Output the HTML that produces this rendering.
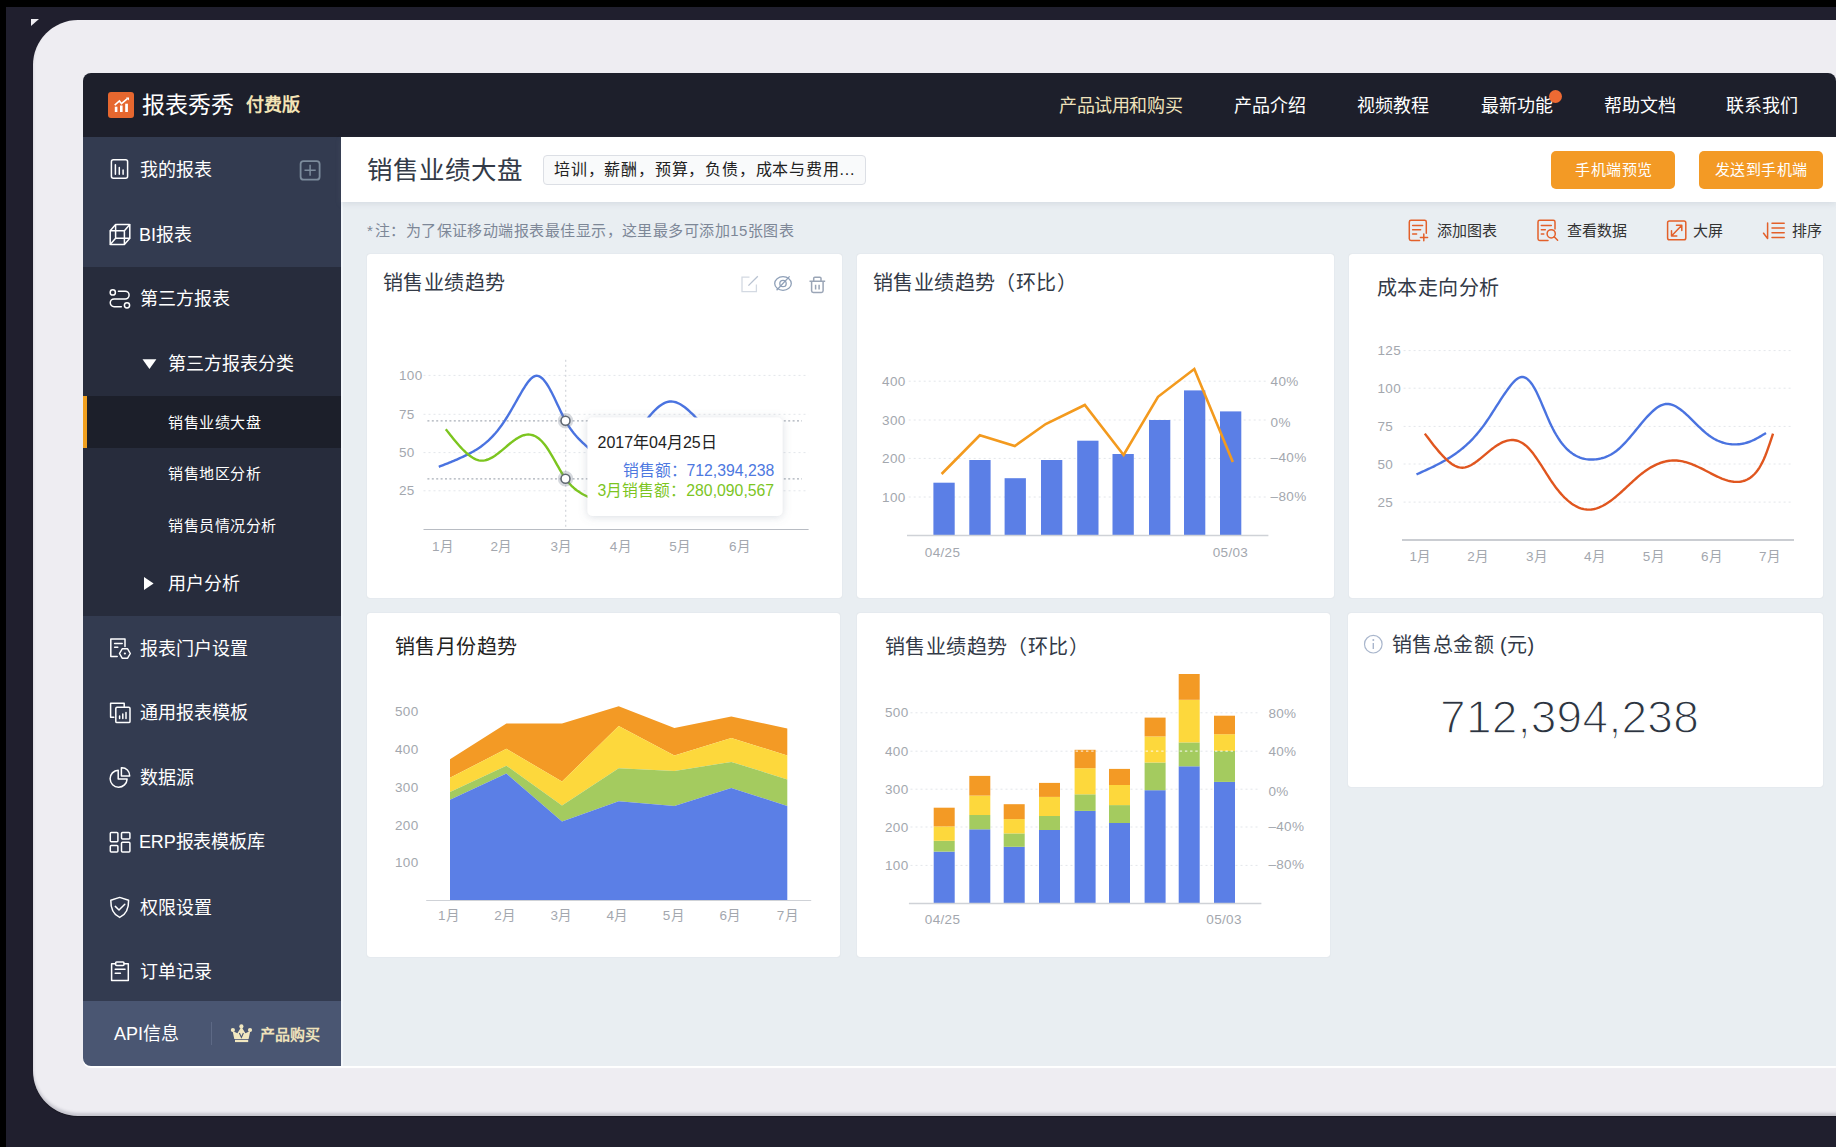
<!DOCTYPE html>
<html lang="zh-CN"><head><meta charset="utf-8">
<style>
*{margin:0;padding:0;box-sizing:border-box}
html,body{width:1836px;height:1147px;overflow:hidden}
body{position:relative;background:#201f2e;font-family:"Liberation Sans",sans-serif;color:#333}
.a{position:absolute;white-space:nowrap}
svg{position:absolute;left:0;top:0;overflow:visible}
#topblk{left:0;top:0;width:1836px;height:7px;background:#000}
#leftblk{left:0;top:0;width:6px;height:1147px;background:#000}
#frame{left:33px;top:20px;width:1900px;height:1096px;border-radius:45px;background:#eeedf2;box-shadow:inset 0 -3px 3px rgba(60,60,80,.22),0 1px 1px rgba(0,0,0,.3)}
#tri{left:31px;top:19px;width:0;height:0;border-top:7px solid #eeedf2;border-right:8px solid transparent}
#app{left:83px;top:73px;width:1753px;height:993px;border-radius:8px 8px 0 8px;overflow:hidden;background:#e9eef2;box-shadow:0 2px 1px #fff}
#hdr{left:83px;top:73px;width:1753px;height:64px;background:#1d1f2b;border-radius:8px 8px 0 0}
.sb{left:83px;width:258px}
.w{color:#fff}
.nav{font-size:18px;line-height:24px;top:94.1px;color:#fff}
.s18{font-size:18px;line-height:24px;color:#fff}
.s15{font-size:15px;line-height:22px;letter-spacing:.5px;color:#fff}
.card{background:#fff;border-radius:3px;box-shadow:0 0 1px rgba(90,100,120,.25)}
.ct{font-size:20px;letter-spacing:.4px;line-height:28px;color:#333a47}
</style></head><body>
<div class="a" id="topblk"></div>
<div class="a" id="leftblk"></div>
<div class="a" id="frame"></div>
<div class="a" id="tri"></div>
<div class="a" id="app"></div>
<div class="a" id="hdr"></div>
<!-- sidebar backgrounds -->
<div class="a sb" style="top:137px;height:130px;background:#333b50"></div>
<div class="a sb" style="top:267px;height:349px;background:#272c3c"></div>
<div class="a sb" style="top:396px;height:52px;background:#1c1f2a"></div>
<div class="a" style="left:83px;top:396px;width:4px;height:52px;background:#f0a020"></div>
<div class="a sb" style="top:616px;height:385px;background:#333b50"></div>
<div class="a sb" style="top:1001px;height:65px;background:#4a5672;border-radius:0 0 0 8px"></div>
<div class="a" style="left:211px;top:1022px;width:1px;height:23px;background:#5d6985"></div>
<div class="a" style="left:341px;top:137px;width:2px;height:929px;background:#f2f6fa"></div>

<!-- header text -->
<div class="a w" style="left:142px;top:88.6px;font-size:23px;line-height:32px">报表秀秀</div>
<div class="a" style="left:246px;top:92.7px;font-size:18px;line-height:24px;color:#f3e3b5;font-weight:bold">付费版</div>
<div class="a nav" style="left:1059px;color:#efe2bb;letter-spacing:-.4px">产品试用和购买</div>
<div class="a nav" style="left:1234px">产品介绍</div>
<div class="a nav" style="left:1357px">视频教程</div>
<div class="a nav" style="left:1481px">最新功能</div>
<div class="a nav" style="left:1604px">帮助文档</div>
<div class="a nav" style="left:1726px">联系我们</div>
<div class="a" style="left:1549px;top:89.7px;width:13px;height:13px;border-radius:50%;background:#ee6a33"></div>

<!-- sidebar text -->
<div class="a s18" style="left:140px;top:158px">我的报表</div>
<div class="a s18" style="left:139px;top:222.5px">BI报表</div>
<div class="a s18" style="left:140px;top:287px">第三方报表</div>
<div class="a s18" style="left:168px;top:352px">第三方报表分类</div>
<div class="a s15" style="left:168px;top:412px">销售业绩大盘</div>
<div class="a s15" style="left:168px;top:463px">销售地区分析</div>
<div class="a s15" style="left:168px;top:515px">销售员情况分析</div>
<div class="a s18" style="left:168px;top:571.6px">用户分析</div>
<div class="a s18" style="left:140px;top:636.5px">报表门户设置</div>
<div class="a s18" style="left:140px;top:701px">通用报表模板</div>
<div class="a s18" style="left:140px;top:765.5px">数据源</div>
<div class="a s18" style="left:139px;top:830px;letter-spacing:-.15px">ERP报表模板库</div>
<div class="a s18" style="left:140px;top:896px">权限设置</div>
<div class="a s18" style="left:140px;top:960px">订单记录</div>
<div class="a s18" style="left:114px;top:1022.4px">API信息</div>
<div class="a" style="left:260px;top:1023px;font-size:15px;line-height:24px;color:#efe2bb;font-weight:bold">产品购买</div>

<!-- title bar -->
<div class="a" style="left:341px;top:137px;width:1495px;height:65px;background:#fff;box-shadow:0 2px 6px rgba(120,130,150,.16)"></div>
<div class="a" style="left:367px;top:153px;font-size:25.5px;line-height:34px;color:#333a47">销售业绩大盘</div>
<div class="a" style="left:543px;top:155px;width:323px;height:30px;border:1px solid #dcdfe5;border-radius:4px;background:#f9fafb"></div>
<div class="a" style="left:554px;top:158px;font-size:16px;line-height:24px;letter-spacing:.8px;color:#222">培训，薪酬，预算，负债，成本与费用...</div>
<div class="a btn" style="left:1551px;top:150.5px;width:124px;height:38px;border-radius:5px;background:#f39a25"></div>
<div class="a btn" style="left:1699px;top:150.5px;width:124px;height:38px;border-radius:5px;background:#f39a25"></div>
<div class="a" style="left:1575px;top:158.5px;font-size:15px;letter-spacing:.5px;line-height:22px;color:#fff">手机端预览</div>
<div class="a" style="left:1715px;top:158.5px;font-size:15px;letter-spacing:.4px;line-height:22px;color:#fff">发送到手机端</div>
<!-- toolbar -->
<div class="a" style="left:367px;top:219.5px;font-size:15px;letter-spacing:.45px;line-height:22px;color:#7d8797"><span style="margin-right:1.5px">*</span>注：为了保证移动端报表最佳显示，这里最多可添加15张图表</div>
<div class="a" style="left:1437px;top:219.5px;font-size:15px;line-height:22px;color:#333">添加图表</div>
<div class="a" style="left:1567px;top:219.5px;font-size:15px;line-height:22px;color:#333">查看数据</div>
<div class="a" style="left:1693px;top:219.5px;font-size:15px;line-height:22px;color:#333">大屏</div>
<div class="a" style="left:1792px;top:219.5px;font-size:15px;line-height:22px;color:#333">排序</div>
<!-- cards -->
<div class="a card" style="left:367px;top:254px;width:474.5px;height:344px"></div>
<div class="a card" style="left:857px;top:254px;width:477px;height:344px"></div>
<div class="a card" style="left:1349.3px;top:254px;width:473.7px;height:344px"></div>
<div class="a card" style="left:367px;top:613px;width:473px;height:344px"></div>
<div class="a card" style="left:857px;top:613px;width:473.3px;height:344px"></div>
<div class="a card" style="left:1347.5px;top:613px;width:475.2px;height:173.5px"></div>
<!-- card titles -->
<div class="a ct" style="left:383px;top:268.5px">销售业绩趋势</div>
<div class="a ct" style="left:873px;top:268.5px">销售业绩趋势（环比）</div>
<div class="a ct" style="left:1377px;top:273.5px">成本走向分析</div>
<div class="a ct" style="left:395px;top:632.5px;color:#222">销售月份趋势</div>
<div class="a ct" style="left:885px;top:632.5px">销售业绩趋势（环比）</div>
<div class="a ct" style="left:1392px;top:631px">销售总金额 (元)</div>
<div class="a" style="left:1440px;top:690px;font-size:46px;line-height:54px;letter-spacing:.3px;color:#2c3440;-webkit-text-stroke:1.3px #fff">712,394,238</div>
<!--CHARTTEXT-->

<svg width="1836" height="1147" viewBox="0 0 1836 1147">
  <!-- logo -->
  <rect x="108" y="92" width="26" height="26" rx="3" fill="#e6672f"/>
  <g fill="#fff">
    <rect x="114.8" y="106.7" width="2.6" height="5.3"/>
    <rect x="120" y="105.5" width="2.6" height="6.5"/>
    <rect x="125.2" y="103.7" width="2.7" height="8.3"/>
    <path d="M126 97.6 L129 97.6 L129 100.6 Z"/>
  </g>
  <polyline points="114.7,105.2 119.4,101 121.5,103.7 127.4,98.6" fill="none" stroke="#fff" stroke-width="1.6"/>
  <g fill="none" stroke="#fff" stroke-width="1.5" stroke-linecap="round" stroke-linejoin="round">
    <!-- my reports -->
    <rect x="111.4" y="159.8" width="16.2" height="18.4" rx="2"/>
    <path d="M115.4 164.8V174.3M119.3 167.4V174.3M123.1 170V174.3"/>
    <!-- BI cube -->
    <rect x="110.2" y="230.8" width="14.2" height="13.6" rx="0.8"/>
    <rect x="115.6" y="224.5" width="14.2" height="13.8" rx="0.8"/>
    <path d="M110.2 230.8L115.6 224.5M124.4 230.8L129.8 224.5M124.4 244.4L129.8 238.3M110.2 244.4L115.6 238.3"/>
    <!-- third party -->
    <circle cx="112.8" cy="292.4" r="2.6"/>
    <circle cx="127" cy="305.3" r="2.6"/>
    <path d="M118.4 291.2H125.2A3.9 3.9 0 0 1 125.2 299H114.1A3.85 3.85 0 0 0 114.1 306.7H121.3"/>
    <!-- portal settings -->
    <path d="M117.2 656.4H110.8V639H125V646.6"/>
    <path d="M114.6 643.4H122.2M114.6 647.3H117.8"/>
    <path d="M122.2 648.8H127.6L130.3 653.5L127.6 658.2H122.2L119.5 653.5Z"/>
    <circle cx="124.9" cy="653.5" r="1.1" fill="#fff" stroke="none"/>
    <!-- templates -->
    <path d="M113.8 717.2H110.6V703.2H124.2V706.6"/>
    <rect x="115.8" y="707.2" width="14.2" height="15.4" rx="1.2"/>
    <path d="M119.6 716V718.6M122.8 713.9V718.6M126 712.5V718.6"/>
    <!-- data source pie -->
    <path d="M118.2 770.2A8.5 8.5 0 1 0 127.1 779.1H118.2Z"/>
    <path d="M121.4 767.7A7.8 7.8 0 0 1 129.7 775.9H121.4Z"/>
    <!-- ERP -->
    <rect x="110.3" y="832.6" width="7.6" height="9.2" rx="1"/>
    <rect x="121.5" y="832.6" width="8.4" height="6.4" rx="1"/>
    <rect x="110.3" y="845.4" width="7.6" height="6.6" rx="1"/>
    <rect x="121.5" y="842.3" width="8.4" height="9.7" rx="1"/>
    <!-- shield -->
    <path d="M119.7 897.4L110.8 900.2C110.6 909 113.5 914.6 119.7 917.4C125.9 914.6 128.8 909 128.6 900.2Z"/>
    <path d="M115.3 906.4L119 910L124.8 904.3"/>
    <!-- clipboard -->
    <path d="M115.6 963.8H111.6V980.5H128.3V963.8H124.2"/>
    <rect x="115.6" y="962" width="8.4" height="3.4" rx="1"/>
    <path d="M115.2 969.3H125M115.2 973.3H120.4"/>
  </g>
  <!-- plus box -->
  <rect x="300.6" y="161.1" width="19" height="18.6" rx="3" fill="none" stroke="#7c8b9b" stroke-width="1.8"/>
  <path d="M310.1 164.8V175.8M304.5 170.3H315.7" stroke="#7c8b9b" stroke-width="1.5"/>
  <!-- triangles -->
  <path d="M142.5 359.3H156.4L149.45 369Z" fill="#fff"/>
  <path d="M144 577V590L153.6 583.5Z" fill="#fff"/>
  <!-- crown -->
  <g fill="#f1e7c0">
    <circle cx="232.9" cy="1030" r="2.1"/>
    <circle cx="241.4" cy="1026.4" r="2.1"/>
    <circle cx="250" cy="1030" r="2.1"/>
    <path d="M232.6 1031L234.3 1039H248.6L250.3 1031L245.4 1033.2L241.4 1026.8L237.4 1033.2Z"/>
    <rect x="235" y="1039.8" width="13.2" height="2.3"/>
  </g>
  <path d="M239.4 1033L241.4 1037.5L243.4 1033" fill="none" stroke="#4a5672" stroke-width="1.1"/>
  <g font-family="Liberation Sans, sans-serif">
<text x="399" y="375.4" font-size="13.5" fill="#a3a7ae" text-anchor="start" dominant-baseline="central" letter-spacing="0.35">100</text>
<line x1="423.5" y1="375.4" x2="808.6" y2="375.4" stroke="#e3e6ea" stroke-width="1" stroke-dasharray="2 3"/>
<text x="399" y="414.3" font-size="13.5" fill="#a3a7ae" text-anchor="start" dominant-baseline="central" letter-spacing="0.35">75</text>
<line x1="423.5" y1="414.3" x2="808.6" y2="414.3" stroke="#e3e6ea" stroke-width="1" stroke-dasharray="2 3"/>
<text x="399" y="452.6" font-size="13.5" fill="#a3a7ae" text-anchor="start" dominant-baseline="central" letter-spacing="0.35">50</text>
<line x1="423.5" y1="452.6" x2="808.6" y2="452.6" stroke="#e3e6ea" stroke-width="1" stroke-dasharray="2 3"/>
<text x="399" y="490.8" font-size="13.5" fill="#a3a7ae" text-anchor="start" dominant-baseline="central" letter-spacing="0.35">25</text>
<line x1="423.5" y1="490.8" x2="808.6" y2="490.8" stroke="#e3e6ea" stroke-width="1" stroke-dasharray="2 3"/>
<line x1="423.5" y1="529.5" x2="808.6" y2="529.5" stroke="#b8bcc3" stroke-width="1"/>
<text x="442.7" y="546.6" font-size="13.5" fill="#a3a7ae" text-anchor="middle" dominant-baseline="central" letter-spacing="0.35">1月</text>
<text x="501" y="546.6" font-size="13.5" fill="#a3a7ae" text-anchor="middle" dominant-baseline="central" letter-spacing="0.35">2月</text>
<text x="561" y="546.6" font-size="13.5" fill="#a3a7ae" text-anchor="middle" dominant-baseline="central" letter-spacing="0.35">3月</text>
<text x="620.3" y="546.6" font-size="13.5" fill="#a3a7ae" text-anchor="middle" dominant-baseline="central" letter-spacing="0.35">4月</text>
<text x="679.8" y="546.6" font-size="13.5" fill="#a3a7ae" text-anchor="middle" dominant-baseline="central" letter-spacing="0.35">5月</text>
<text x="739.6" y="546.6" font-size="13.5" fill="#a3a7ae" text-anchor="middle" dominant-baseline="central" letter-spacing="0.35">6月</text>
<line x1="565.75" y1="359.8" x2="565.75" y2="529" stroke="#c9cdd3" stroke-width="1" stroke-dasharray="2 3"/>
<line x1="427.4" y1="420.8" x2="802" y2="420.8" stroke="#a9afb8" stroke-width="1.2" stroke-dasharray="2 2.4"/>
<line x1="427.4" y1="478.8" x2="802" y2="478.8" stroke="#a9afb8" stroke-width="1.2" stroke-dasharray="2 2.4"/>
<path d="M438.80,466.80 L440.30,466.22 L441.80,465.63 L443.30,465.05 L444.80,464.46 L446.30,463.87 L447.80,463.27 L449.30,462.67 L450.80,462.06 L452.30,461.45 L453.80,460.82 L455.30,460.19 L456.80,459.54 L458.30,458.88 L459.80,458.22 L461.30,457.53 L462.80,456.84 L464.30,456.12 L465.80,455.40 L467.30,454.65 L468.80,453.89 L470.30,453.10 L471.80,452.29 L473.30,451.45 L474.80,450.57 L476.30,449.66 L477.80,448.71 L479.30,447.71 L480.80,446.66 L482.30,445.56 L483.80,444.40 L485.30,443.18 L486.80,441.90 L488.30,440.55 L489.80,439.13 L491.30,437.64 L492.80,436.07 L494.30,434.43 L495.80,432.71 L497.30,430.91 L498.80,429.02 L500.30,427.05 L501.80,425.00 L503.30,422.85 L504.80,420.61 L506.30,418.27 L507.80,415.85 L509.30,413.37 L510.80,410.82 L512.30,408.23 L513.80,405.61 L515.30,402.97 L516.80,400.33 L518.30,397.69 L519.80,395.08 L521.30,392.50 L522.80,389.97 L524.30,387.53 L525.80,385.22 L527.30,383.07 L528.80,381.12 L530.30,379.42 L531.80,377.99 L533.30,376.89 L534.80,376.15 L536.30,375.80 L537.80,375.88 L539.30,376.37 L540.80,377.24 L542.30,378.47 L543.80,380.03 L545.30,381.89 L546.80,384.03 L548.30,386.41 L549.80,389.02 L551.30,391.81 L552.80,394.76 L554.30,397.82 L555.80,400.97 L557.30,404.15 L558.80,407.35 L560.30,410.52 L561.80,413.63 L563.30,416.63 L564.80,419.50 L566.30,422.20 L567.80,424.71 L569.30,427.06 L570.80,429.26 L572.30,431.31 L573.80,433.24 L575.30,435.05 L576.80,436.76 L578.30,438.38 L579.80,439.92 L581.30,441.40 L582.80,442.83 L584.30,444.22 L585.80,445.59 L587.30,446.94 L588.80,448.28 L590.30,449.60 L591.80,450.89 L593.30,452.13 L594.80,453.32 L596.30,454.44 L597.80,455.47 L599.30,456.42 L600.80,457.25 L602.30,457.97 L603.80,458.57 L605.30,459.02 L606.80,459.32 L608.30,459.45 L609.80,459.41 L611.30,459.18 L612.80,458.74 L614.30,458.11 L615.80,457.30 L617.30,456.30 L618.80,455.15 L620.30,453.85 L621.80,452.41 L623.30,450.85 L624.80,449.18 L626.30,447.41 L627.80,445.55 L629.30,443.62 L630.80,441.63 L632.30,439.59 L633.80,437.51 L635.30,435.41 L636.80,433.30 L638.30,431.18 L639.80,429.06 L641.30,426.96 L642.80,424.88 L644.30,422.83 L645.80,420.83 L647.30,418.88 L648.80,417.00 L650.30,415.19 L651.80,413.46 L653.30,411.82 L654.80,410.27 L656.30,408.83 L657.80,407.49 L659.30,406.27 L660.80,405.17 L662.30,404.20 L663.80,403.36 L665.30,402.67 L666.80,402.13 L668.30,401.74 L669.80,401.52 L671.30,401.46 L672.80,401.57 L674.30,401.83 L675.80,402.24 L677.30,402.79 L678.80,403.46 L680.30,404.26 L681.80,405.17 L683.30,406.18 L684.80,407.29 L686.30,408.49 L687.80,409.76 L689.30,411.10 L690.80,412.51 L692.30,413.96 L693.80,415.46 L695.30,417.00 L696.80,418.56 L698.30,420.16 L699.80,421.77 L701.30,423.41 L702.80,425.06 L704.30,426.74 L705.80,428.43 L707.30,430.14 L708.80,431.86 L710.30,433.60 L711.80,435.34 L713.30,437.10 L714.80,438.86 L716.30,440.63 L717.80,442.40 L719.30,444.17 L720.00,445.00" fill="none" stroke="#4a73e0" stroke-width="2.4"/>
<path d="M445.80,429.20 L447.30,431.12 L448.80,433.03 L450.30,434.93 L451.80,436.82 L453.30,438.67 L454.80,440.50 L456.30,442.29 L457.80,444.04 L459.30,445.74 L460.80,447.38 L462.30,448.96 L463.80,450.48 L465.30,451.92 L466.80,453.28 L468.30,454.55 L469.80,455.74 L471.30,456.81 L472.80,457.78 L474.30,458.62 L475.80,459.33 L477.30,459.90 L478.80,460.32 L480.30,460.58 L481.80,460.67 L483.30,460.60 L484.80,460.37 L486.30,460.01 L487.80,459.51 L489.30,458.90 L490.80,458.17 L492.30,457.34 L493.80,456.42 L495.30,455.42 L496.80,454.35 L498.30,453.22 L499.80,452.05 L501.30,450.83 L502.80,449.58 L504.30,448.32 L505.80,447.05 L507.30,445.78 L508.80,444.53 L510.30,443.30 L511.80,442.11 L513.30,440.97 L514.80,439.88 L516.30,438.87 L517.80,437.93 L519.30,437.09 L520.80,436.35 L522.30,435.72 L523.80,435.21 L525.30,434.84 L526.80,434.62 L528.30,434.54 L529.80,434.61 L531.30,434.84 L532.80,435.24 L534.30,435.79 L535.80,436.53 L537.30,437.43 L538.80,438.52 L540.30,439.79 L541.80,441.25 L543.30,442.91 L544.80,444.77 L546.30,446.81 L547.80,449.03 L549.30,451.38 L550.80,453.84 L552.30,456.40 L553.80,459.01 L555.30,461.66 L556.80,464.31 L558.30,466.95 L559.80,469.55 L561.30,472.07 L562.80,474.50 L564.30,476.80 L565.80,478.96 L567.30,480.95 L568.80,482.79 L570.30,484.48 L571.80,486.03 L573.30,487.46 L574.80,488.78 L576.30,489.98 L577.80,491.09 L579.30,492.11 L580.80,493.05 L582.30,493.93 L583.80,494.75 L585.30,495.52 L586.80,496.25 L588.30,496.95 L589.80,497.62 L591.30,498.27 L592.80,498.90 L594.30,499.50 L595.80,500.09 L597.30,500.65 L598.80,501.20 L600.30,501.74 L601.80,502.26 L603.30,502.78 L604.80,503.28 L606.30,503.78 L607.80,504.28 L609.30,504.77 L610.00,505.00" fill="none" stroke="#7cc51f" stroke-width="2.4"/>
<circle cx="565.5" cy="420.8" r="6.4" fill="none" stroke="rgba(120,130,145,.3)" stroke-width="2.6"/>
<circle cx="565.5" cy="420.8" r="4.5" fill="#fff" stroke="#5f6872" stroke-width="1.6"/>
<circle cx="565.5" cy="478.8" r="6.4" fill="none" stroke="rgba(120,130,145,.3)" stroke-width="2.6"/>
<circle cx="565.5" cy="478.8" r="4.5" fill="#fff" stroke="#5f6872" stroke-width="1.6"/>
<defs><filter id="sh" x="-20%" y="-20%" width="140%" height="140%"><feDropShadow dx="0" dy="1" stdDeviation="4" flood-color="#6a7a90" flood-opacity=".26"/></filter></defs>
<rect x="587.5" y="417.5" width="195" height="98.5" rx="5" fill="#fff" filter="url(#sh)"/>
<g fill="none" stroke-width="1.3">
<path d="M749.5 277.2H742V291.6H756.4V284.5" stroke="#d3d9e2"/><path d="M748.4 285.6L757.8 276.2" stroke="#b8c2d1"/>
<ellipse cx="783" cy="283.5" rx="8.3" ry="6.8" stroke="#8fa0b8"/><circle cx="783" cy="283.5" r="3.2" stroke="#8fa0b8"/><path d="M776.6 290.2L789.6 276.4" stroke="#8fa0b8"/>
<path d="M809.5 281.3H825.2M811.6 281.3V290.8C811.6 291.8 812.3 292.4 813.3 292.4H821.4C822.4 292.4 823.1 291.8 823.1 290.8V281.3M813.7 281.3V278.3C813.7 277.6 814.2 277.2 814.9 277.2H819.8C820.5 277.2 821 277.6 821 278.3V281.3M815.6 284.8V289.4M819.1 284.8V289.4" stroke="#9aa5b6" stroke-width="1.5"/>
</g>
<text x="905.7" y="381.2" font-size="13.5" fill="#a3a7ae" text-anchor="end" dominant-baseline="central" letter-spacing="0.35">400</text>
<text x="1270.6" y="381" font-size="13.5" fill="#a3a7ae" text-anchor="start" dominant-baseline="central" letter-spacing="0.35">40%</text>
<line x1="908.7" y1="381.2" x2="1266.8" y2="381.2" stroke="#e3e6ea" stroke-width="1" stroke-dasharray="2 3"/>
<text x="905.7" y="420" font-size="13.5" fill="#a3a7ae" text-anchor="end" dominant-baseline="central" letter-spacing="0.35">300</text>
<text x="1270.6" y="422" font-size="13.5" fill="#a3a7ae" text-anchor="start" dominant-baseline="central" letter-spacing="0.35">0%</text>
<line x1="908.7" y1="420" x2="1266.8" y2="420" stroke="#e3e6ea" stroke-width="1" stroke-dasharray="2 3"/>
<text x="905.7" y="458.4" font-size="13.5" fill="#a3a7ae" text-anchor="end" dominant-baseline="central" letter-spacing="0.35">200</text>
<text x="1270.6" y="457.2" font-size="13.5" fill="#a3a7ae" text-anchor="start" dominant-baseline="central" letter-spacing="0.35">–40%</text>
<line x1="908.7" y1="458.4" x2="1266.8" y2="458.4" stroke="#e3e6ea" stroke-width="1" stroke-dasharray="2 3"/>
<text x="905.7" y="497" font-size="13.5" fill="#a3a7ae" text-anchor="end" dominant-baseline="central" letter-spacing="0.35">100</text>
<text x="1270.6" y="496.3" font-size="13.5" fill="#a3a7ae" text-anchor="start" dominant-baseline="central" letter-spacing="0.35">–80%</text>
<line x1="908.7" y1="497" x2="1266.8" y2="497" stroke="#e3e6ea" stroke-width="1" stroke-dasharray="2 3"/>
<rect x="933.4" y="482.7" width="21.3" height="52.8" fill="#5b7fe6"/>
<rect x="969.3" y="460" width="21.3" height="75.5" fill="#5b7fe6"/>
<rect x="1004.6" y="478.2" width="21.3" height="57.3" fill="#5b7fe6"/>
<rect x="1041" y="460" width="21.3" height="75.5" fill="#5b7fe6"/>
<rect x="1077.2" y="440.7" width="21.3" height="94.8" fill="#5b7fe6"/>
<rect x="1112.5" y="454" width="21.3" height="81.5" fill="#5b7fe6"/>
<rect x="1149" y="420" width="21.3" height="115.5" fill="#5b7fe6"/>
<rect x="1184" y="390.4" width="21.3" height="145.1" fill="#5b7fe6"/>
<rect x="1220" y="411.4" width="21.3" height="124.1" fill="#5b7fe6"/>
<line x1="907" y1="535.5" x2="1268.4" y2="535.5" stroke="#cfd2d7" stroke-width="1.5"/>
<polyline points="941.6,474 979.8,435.3 1014.8,446 1045.7,424 1084.8,405 1123.6,455 1158,396.8 1194.3,369 1232.8,462" fill="none" stroke="#f39a1e" stroke-width="2.6" stroke-linejoin="miter"/>
<text x="924.8" y="552" font-size="13.5" fill="#a3a7ae" text-anchor="start" dominant-baseline="central" letter-spacing="0.35">04/25</text>
<text x="1212.7" y="552" font-size="13.5" fill="#a3a7ae" text-anchor="start" dominant-baseline="central" letter-spacing="0.35">05/03</text>
<text x="1377.5" y="350.6" font-size="13.5" fill="#a3a7ae" text-anchor="start" dominant-baseline="central" letter-spacing="0.35">125</text>
<line x1="1403.6" y1="350.6" x2="1791.8" y2="350.6" stroke="#e3e6ea" stroke-width="1" stroke-dasharray="2 3"/>
<text x="1377.5" y="388.2" font-size="13.5" fill="#a3a7ae" text-anchor="start" dominant-baseline="central" letter-spacing="0.35">100</text>
<line x1="1403.6" y1="388.2" x2="1791.8" y2="388.2" stroke="#e3e6ea" stroke-width="1" stroke-dasharray="2 3"/>
<text x="1377.5" y="426.4" font-size="13.5" fill="#a3a7ae" text-anchor="start" dominant-baseline="central" letter-spacing="0.35">75</text>
<line x1="1403.6" y1="426.4" x2="1791.8" y2="426.4" stroke="#e3e6ea" stroke-width="1" stroke-dasharray="2 3"/>
<text x="1377.5" y="464" font-size="13.5" fill="#a3a7ae" text-anchor="start" dominant-baseline="central" letter-spacing="0.35">50</text>
<line x1="1403.6" y1="464" x2="1791.8" y2="464" stroke="#e3e6ea" stroke-width="1" stroke-dasharray="2 3"/>
<text x="1377.5" y="502.1" font-size="13.5" fill="#a3a7ae" text-anchor="start" dominant-baseline="central" letter-spacing="0.35">25</text>
<line x1="1403.6" y1="502.1" x2="1791.8" y2="502.1" stroke="#e3e6ea" stroke-width="1" stroke-dasharray="2 3"/>
<line x1="1402" y1="540" x2="1794" y2="540" stroke="#b8bcc3" stroke-width="1.5"/>
<text x="1420.2" y="556.2" font-size="13.5" fill="#a3a7ae" text-anchor="middle" dominant-baseline="central" letter-spacing="0.35">1月</text>
<text x="1477.8" y="556.2" font-size="13.5" fill="#a3a7ae" text-anchor="middle" dominant-baseline="central" letter-spacing="0.35">2月</text>
<text x="1536.6" y="556.2" font-size="13.5" fill="#a3a7ae" text-anchor="middle" dominant-baseline="central" letter-spacing="0.35">3月</text>
<text x="1594.5" y="556.2" font-size="13.5" fill="#a3a7ae" text-anchor="middle" dominant-baseline="central" letter-spacing="0.35">4月</text>
<text x="1653.4" y="556.2" font-size="13.5" fill="#a3a7ae" text-anchor="middle" dominant-baseline="central" letter-spacing="0.35">5月</text>
<text x="1711.6" y="556.2" font-size="13.5" fill="#a3a7ae" text-anchor="middle" dominant-baseline="central" letter-spacing="0.35">6月</text>
<text x="1769.5" y="556.2" font-size="13.5" fill="#a3a7ae" text-anchor="middle" dominant-baseline="central" letter-spacing="0.35">7月</text>
<path d="M1416.50,474.40 L1418.00,473.73 L1419.50,473.06 L1421.00,472.39 L1422.50,471.71 L1424.00,471.03 L1425.50,470.35 L1427.00,469.66 L1428.50,468.96 L1430.00,468.25 L1431.50,467.53 L1433.00,466.80 L1434.50,466.06 L1436.00,465.30 L1437.50,464.53 L1439.00,463.74 L1440.50,462.94 L1442.00,462.12 L1443.50,461.28 L1445.00,460.42 L1446.50,459.54 L1448.00,458.64 L1449.50,457.71 L1451.00,456.75 L1452.50,455.77 L1454.00,454.76 L1455.50,453.72 L1457.00,452.64 L1458.50,451.53 L1460.00,450.37 L1461.50,449.18 L1463.00,447.95 L1464.50,446.67 L1466.00,445.34 L1467.50,443.97 L1469.00,442.55 L1470.50,441.07 L1472.00,439.54 L1473.50,437.95 L1475.00,436.31 L1476.50,434.60 L1478.00,432.83 L1479.50,431.00 L1481.00,429.10 L1482.50,427.13 L1484.00,425.09 L1485.50,422.98 L1487.00,420.80 L1488.50,418.58 L1490.00,416.31 L1491.50,414.01 L1493.00,411.68 L1494.50,409.34 L1496.00,406.98 L1497.50,404.63 L1499.00,402.29 L1500.50,399.97 L1502.00,397.68 L1503.50,395.43 L1505.00,393.22 L1506.50,391.07 L1508.00,388.98 L1509.50,386.97 L1511.00,385.05 L1512.50,383.26 L1514.00,381.63 L1515.50,380.19 L1517.00,378.98 L1518.50,378.02 L1520.00,377.35 L1521.50,377.01 L1523.00,377.02 L1524.50,377.38 L1526.00,378.08 L1527.50,379.13 L1529.00,380.50 L1530.50,382.19 L1532.00,384.21 L1533.50,386.53 L1535.00,389.15 L1536.50,392.04 L1538.00,395.16 L1539.50,398.45 L1541.00,401.89 L1542.50,405.41 L1544.00,408.99 L1545.50,412.57 L1547.00,416.11 L1548.50,419.57 L1550.00,422.91 L1551.50,426.08 L1553.00,429.06 L1554.50,431.87 L1556.00,434.51 L1557.50,436.97 L1559.00,439.28 L1560.50,441.43 L1562.00,443.42 L1563.50,445.27 L1565.00,446.99 L1566.50,448.56 L1568.00,450.01 L1569.50,451.33 L1571.00,452.54 L1572.50,453.63 L1574.00,454.62 L1575.50,455.50 L1577.00,456.28 L1578.50,456.97 L1580.00,457.57 L1581.50,458.08 L1583.00,458.51 L1584.50,458.86 L1586.00,459.13 L1587.50,459.33 L1589.00,459.46 L1590.50,459.53 L1592.00,459.53 L1593.50,459.48 L1595.00,459.37 L1596.50,459.22 L1598.00,459.00 L1599.50,458.73 L1601.00,458.41 L1602.50,458.01 L1604.00,457.56 L1605.50,457.03 L1607.00,456.43 L1608.50,455.76 L1610.00,455.01 L1611.50,454.19 L1613.00,453.28 L1614.50,452.28 L1616.00,451.20 L1617.50,450.03 L1619.00,448.76 L1620.50,447.41 L1622.00,445.97 L1623.50,444.46 L1625.00,442.89 L1626.50,441.25 L1628.00,439.57 L1629.50,437.84 L1631.00,436.07 L1632.50,434.27 L1634.00,432.46 L1635.50,430.63 L1637.00,428.79 L1638.50,426.96 L1640.00,425.13 L1641.50,423.32 L1643.00,421.53 L1644.50,419.78 L1646.00,418.07 L1647.50,416.41 L1649.00,414.82 L1650.50,413.29 L1652.00,411.85 L1653.50,410.49 L1655.00,409.24 L1656.50,408.09 L1658.00,407.07 L1659.50,406.17 L1661.00,405.41 L1662.50,404.80 L1664.00,404.35 L1665.50,404.06 L1667.00,403.94 L1668.50,404.00 L1670.00,404.23 L1671.50,404.60 L1673.00,405.12 L1674.50,405.77 L1676.00,406.55 L1677.50,407.44 L1679.00,408.43 L1680.50,409.51 L1682.00,410.68 L1683.50,411.92 L1685.00,413.22 L1686.50,414.58 L1688.00,415.98 L1689.50,417.41 L1691.00,418.87 L1692.50,420.35 L1694.00,421.84 L1695.50,423.33 L1697.00,424.81 L1698.50,426.28 L1700.00,427.72 L1701.50,429.14 L1703.00,430.51 L1704.50,431.84 L1706.00,433.12 L1707.50,434.33 L1709.00,435.47 L1710.50,436.54 L1712.00,437.53 L1713.50,438.45 L1715.00,439.30 L1716.50,440.07 L1718.00,440.78 L1719.50,441.42 L1721.00,441.99 L1722.50,442.50 L1724.00,442.95 L1725.50,443.33 L1727.00,443.65 L1728.50,443.92 L1730.00,444.12 L1731.50,444.27 L1733.00,444.36 L1734.50,444.40 L1736.00,444.39 L1737.50,444.32 L1739.00,444.20 L1740.50,444.02 L1742.00,443.79 L1743.50,443.49 L1745.00,443.15 L1746.50,442.74 L1748.00,442.27 L1749.50,441.75 L1751.00,441.16 L1752.50,440.51 L1754.00,439.81 L1755.50,439.06 L1757.00,438.27 L1758.50,437.45 L1760.00,436.59 L1761.50,435.72 L1763.00,434.82 L1764.50,433.91 L1766.00,433.00" fill="none" stroke="#4a73e0" stroke-width="2.4"/>
<path d="M1424.80,433.60 L1426.30,435.60 L1427.80,437.59 L1429.30,439.58 L1430.80,441.54 L1432.30,443.48 L1433.80,445.39 L1435.30,447.27 L1436.80,449.11 L1438.30,450.89 L1439.80,452.63 L1441.30,454.31 L1442.80,455.92 L1444.30,457.46 L1445.80,458.93 L1447.30,460.31 L1448.80,461.61 L1450.30,462.80 L1451.80,463.89 L1453.30,464.87 L1454.80,465.71 L1456.30,466.43 L1457.80,466.99 L1459.30,467.40 L1460.80,467.65 L1462.30,467.72 L1463.80,467.62 L1465.30,467.37 L1466.80,466.96 L1468.30,466.42 L1469.80,465.75 L1471.30,464.98 L1472.80,464.10 L1474.30,463.13 L1475.80,462.08 L1477.30,460.97 L1478.80,459.80 L1480.30,458.59 L1481.80,457.35 L1483.30,456.10 L1484.80,454.83 L1486.30,453.57 L1487.80,452.32 L1489.30,451.10 L1490.80,449.90 L1492.30,448.75 L1493.80,447.63 L1495.30,446.57 L1496.80,445.56 L1498.30,444.62 L1499.80,443.74 L1501.30,442.94 L1502.80,442.22 L1504.30,441.60 L1505.80,441.06 L1507.30,440.63 L1508.80,440.31 L1510.30,440.10 L1511.80,440.02 L1513.30,440.06 L1514.80,440.22 L1516.30,440.51 L1517.80,440.94 L1519.30,441.50 L1520.80,442.20 L1522.30,443.04 L1523.80,444.03 L1525.30,445.17 L1526.80,446.46 L1528.30,447.90 L1529.80,449.50 L1531.30,451.24 L1532.80,453.11 L1534.30,455.09 L1535.80,457.18 L1537.30,459.34 L1538.80,461.58 L1540.30,463.88 L1541.80,466.22 L1543.30,468.58 L1544.80,470.96 L1546.30,473.33 L1547.80,475.69 L1549.30,478.02 L1550.80,480.30 L1552.30,482.52 L1553.80,484.66 L1555.30,486.73 L1556.80,488.70 L1558.30,490.59 L1559.80,492.40 L1561.30,494.11 L1562.80,495.74 L1564.30,497.28 L1565.80,498.74 L1567.30,500.10 L1568.80,501.37 L1570.30,502.56 L1571.80,503.65 L1573.30,504.66 L1574.80,505.57 L1576.30,506.39 L1577.80,507.12 L1579.30,507.76 L1580.80,508.30 L1582.30,508.75 L1583.80,509.11 L1585.30,509.38 L1586.80,509.55 L1588.30,509.62 L1589.80,509.60 L1591.30,509.48 L1592.80,509.28 L1594.30,508.98 L1595.80,508.59 L1597.30,508.13 L1598.80,507.58 L1600.30,506.96 L1601.80,506.26 L1603.30,505.49 L1604.80,504.66 L1606.30,503.76 L1607.80,502.80 L1609.30,501.78 L1610.80,500.71 L1612.30,499.59 L1613.80,498.42 L1615.30,497.21 L1616.80,495.95 L1618.30,494.66 L1619.80,493.34 L1621.30,492.00 L1622.80,490.63 L1624.30,489.25 L1625.80,487.86 L1627.30,486.46 L1628.80,485.06 L1630.30,483.67 L1631.80,482.28 L1633.30,480.91 L1634.80,479.56 L1636.30,478.23 L1637.80,476.92 L1639.30,475.66 L1640.80,474.43 L1642.30,473.24 L1643.80,472.10 L1645.30,471.01 L1646.80,469.97 L1648.30,468.98 L1649.80,468.05 L1651.30,467.16 L1652.80,466.33 L1654.30,465.56 L1655.80,464.83 L1657.30,464.16 L1658.80,463.55 L1660.30,462.99 L1661.80,462.48 L1663.30,462.03 L1664.80,461.64 L1666.30,461.30 L1667.80,461.02 L1669.30,460.80 L1670.80,460.64 L1672.30,460.53 L1673.80,460.48 L1675.30,460.50 L1676.80,460.57 L1678.30,460.70 L1679.80,460.90 L1681.30,461.14 L1682.80,461.44 L1684.30,461.79 L1685.80,462.19 L1687.30,462.64 L1688.80,463.12 L1690.30,463.65 L1691.80,464.21 L1693.30,464.80 L1694.80,465.43 L1696.30,466.08 L1697.80,466.77 L1699.30,467.47 L1700.80,468.19 L1702.30,468.94 L1703.80,469.69 L1705.30,470.46 L1706.80,471.24 L1708.30,472.02 L1709.80,472.80 L1711.30,473.58 L1712.80,474.35 L1714.30,475.10 L1715.80,475.84 L1717.30,476.55 L1718.80,477.24 L1720.30,477.90 L1721.80,478.52 L1723.30,479.10 L1724.80,479.64 L1726.30,480.13 L1727.80,480.57 L1729.30,480.96 L1730.80,481.28 L1732.30,481.55 L1733.80,481.74 L1735.30,481.87 L1736.80,481.91 L1738.30,481.88 L1739.80,481.75 L1741.30,481.53 L1742.80,481.19 L1744.30,480.75 L1745.80,480.18 L1747.30,479.48 L1748.80,478.65 L1750.30,477.67 L1751.80,476.54 L1753.30,475.24 L1754.80,473.73 L1756.30,472.01 L1757.80,470.04 L1759.30,467.81 L1760.80,465.28 L1762.30,462.43 L1763.80,459.24 L1765.30,455.70 L1766.80,451.82 L1768.30,447.68 L1769.80,443.34 L1771.30,438.86 L1772.80,434.31 L1773.00,433.70" fill="none" stroke="#e0561f" stroke-width="2.4"/>
<text x="395" y="711.6" font-size="13.5" fill="#a3a7ae" text-anchor="start" dominant-baseline="central" letter-spacing="0.35">500</text>
<text x="395" y="749.8" font-size="13.5" fill="#a3a7ae" text-anchor="start" dominant-baseline="central" letter-spacing="0.35">400</text>
<text x="395" y="787" font-size="13.5" fill="#a3a7ae" text-anchor="start" dominant-baseline="central" letter-spacing="0.35">300</text>
<text x="395" y="825.2" font-size="13.5" fill="#a3a7ae" text-anchor="start" dominant-baseline="central" letter-spacing="0.35">200</text>
<text x="395" y="862.7" font-size="13.5" fill="#a3a7ae" text-anchor="start" dominant-baseline="central" letter-spacing="0.35">100</text>
<polygon points="450,759.3 506.4,723.4 562,723.4 618.7,706.2 674.4,728.1 731.3,716.4 787.3,728.5 787.3,755.5 731.3,738 674.4,755.5 618.7,725.9 562,781.6 506.4,748.8 450,777.8" fill="#f39a25"/>
<polygon points="450,777.8 506.4,748.8 562,781.6 618.7,725.9 674.4,755.5 731.3,738 787.3,755.5 787.3,779.4 731.3,761.9 674.4,771 618.7,768.2 562,805.4 506.4,765.7 450,792" fill="#fdd83c"/>
<polygon points="450,792 506.4,765.7 562,805.4 618.7,768.2 674.4,771 731.3,761.9 787.3,779.4 787.3,806 731.3,788 674.4,806 618.7,801.3 562,821.4 506.4,773.6 450,799.7" fill="#a4cb5f"/>
<polygon points="450,799.7 506.4,773.6 562,821.4 618.7,801.3 674.4,806 731.3,788 787.3,806 787.3,900.5 450,900.5" fill="#5b7fe6"/>
<line x1="426.2" y1="900.5" x2="811.2" y2="900.5" stroke="#cfd2d7" stroke-width="1.2"/>
<text x="448.5" y="915.2" font-size="13.5" fill="#a3a7ae" text-anchor="middle" dominant-baseline="central" letter-spacing="0.35">1月</text>
<text x="504.8" y="915.2" font-size="13.5" fill="#a3a7ae" text-anchor="middle" dominant-baseline="central" letter-spacing="0.35">2月</text>
<text x="561" y="915.2" font-size="13.5" fill="#a3a7ae" text-anchor="middle" dominant-baseline="central" letter-spacing="0.35">3月</text>
<text x="617" y="915.2" font-size="13.5" fill="#a3a7ae" text-anchor="middle" dominant-baseline="central" letter-spacing="0.35">4月</text>
<text x="673.4" y="915.2" font-size="13.5" fill="#a3a7ae" text-anchor="middle" dominant-baseline="central" letter-spacing="0.35">5月</text>
<text x="730" y="915.2" font-size="13.5" fill="#a3a7ae" text-anchor="middle" dominant-baseline="central" letter-spacing="0.35">6月</text>
<text x="787.3" y="915.2" font-size="13.5" fill="#a3a7ae" text-anchor="middle" dominant-baseline="central" letter-spacing="0.35">7月</text>
<text x="885" y="712.8" font-size="13.5" fill="#a3a7ae" text-anchor="start" dominant-baseline="central" letter-spacing="0.35">500</text>
<text x="1268.4" y="713" font-size="13.5" fill="#a3a7ae" text-anchor="start" dominant-baseline="central" letter-spacing="0.35">80%</text>
<line x1="910.5" y1="712.8" x2="1260.4" y2="712.8" stroke="#e3e6ea" stroke-width="1" stroke-dasharray="2 3"/>
<text x="885" y="751.2" font-size="13.5" fill="#a3a7ae" text-anchor="start" dominant-baseline="central" letter-spacing="0.35">400</text>
<text x="1268.4" y="751" font-size="13.5" fill="#a3a7ae" text-anchor="start" dominant-baseline="central" letter-spacing="0.35">40%</text>
<line x1="910.5" y1="751.2" x2="1260.4" y2="751.2" stroke="#e3e6ea" stroke-width="1" stroke-dasharray="2 3"/>
<text x="885" y="789.2" font-size="13.5" fill="#a3a7ae" text-anchor="start" dominant-baseline="central" letter-spacing="0.35">300</text>
<text x="1268.4" y="791.5" font-size="13.5" fill="#a3a7ae" text-anchor="start" dominant-baseline="central" letter-spacing="0.35">0%</text>
<line x1="910.5" y1="789.2" x2="1260.4" y2="789.2" stroke="#e3e6ea" stroke-width="1" stroke-dasharray="2 3"/>
<text x="885" y="827" font-size="13.5" fill="#a3a7ae" text-anchor="start" dominant-baseline="central" letter-spacing="0.35">200</text>
<text x="1268.4" y="826" font-size="13.5" fill="#a3a7ae" text-anchor="start" dominant-baseline="central" letter-spacing="0.35">–40%</text>
<line x1="910.5" y1="827" x2="1260.4" y2="827" stroke="#e3e6ea" stroke-width="1" stroke-dasharray="2 3"/>
<text x="885" y="865.4" font-size="13.5" fill="#a3a7ae" text-anchor="start" dominant-baseline="central" letter-spacing="0.35">100</text>
<text x="1268.4" y="864.3" font-size="13.5" fill="#a3a7ae" text-anchor="start" dominant-baseline="central" letter-spacing="0.35">–80%</text>
<line x1="910.5" y1="865.4" x2="1260.4" y2="865.4" stroke="#e3e6ea" stroke-width="1" stroke-dasharray="2 3"/>
<rect x="933.7" y="851.6" width="21" height="51.9" fill="#5b7fe6"/>
<rect x="933.7" y="840.8" width="21" height="10.8" fill="#a4cb5f"/>
<rect x="933.7" y="826.4" width="21" height="14.4" fill="#fdd83c"/>
<rect x="933.7" y="807.7" width="21" height="18.7" fill="#f39a25"/>
<rect x="969.3" y="829.3" width="21" height="74.2" fill="#5b7fe6"/>
<rect x="969.3" y="815" width="21" height="14.3" fill="#a4cb5f"/>
<rect x="969.3" y="795.6" width="21" height="19.4" fill="#fdd83c"/>
<rect x="969.3" y="775.9" width="21" height="19.7" fill="#f39a25"/>
<rect x="1003.7" y="846.8" width="21" height="56.7" fill="#5b7fe6"/>
<rect x="1003.7" y="833.4" width="21" height="13.4" fill="#a4cb5f"/>
<rect x="1003.7" y="819.1" width="21" height="14.3" fill="#fdd83c"/>
<rect x="1003.7" y="804.2" width="21" height="14.9" fill="#f39a25"/>
<rect x="1039" y="830" width="21" height="73.5" fill="#5b7fe6"/>
<rect x="1039" y="816" width="21" height="14.0" fill="#a4cb5f"/>
<rect x="1039" y="796.9" width="21" height="19.1" fill="#fdd83c"/>
<rect x="1039" y="782.9" width="21" height="14.0" fill="#f39a25"/>
<rect x="1074.6" y="810.9" width="21" height="92.6" fill="#5b7fe6"/>
<rect x="1074.6" y="794.3" width="21" height="16.6" fill="#a4cb5f"/>
<rect x="1074.6" y="768.2" width="21" height="26.1" fill="#fdd83c"/>
<rect x="1074.6" y="749.8" width="21" height="18.4" fill="#f39a25"/>
<rect x="1109" y="823" width="21" height="80.5" fill="#5b7fe6"/>
<rect x="1109" y="805.1" width="21" height="17.9" fill="#a4cb5f"/>
<rect x="1109" y="785" width="21" height="20.1" fill="#fdd83c"/>
<rect x="1109" y="768.9" width="21" height="16.1" fill="#f39a25"/>
<rect x="1144.6" y="790.2" width="21" height="113.3" fill="#5b7fe6"/>
<rect x="1144.6" y="762.5" width="21" height="27.7" fill="#a4cb5f"/>
<rect x="1144.6" y="736.4" width="21" height="26.1" fill="#fdd83c"/>
<rect x="1144.6" y="717.6" width="21" height="18.8" fill="#f39a25"/>
<rect x="1178.7" y="766.3" width="21" height="137.2" fill="#5b7fe6"/>
<rect x="1178.7" y="742.4" width="21" height="23.9" fill="#a4cb5f"/>
<rect x="1178.7" y="699.8" width="21" height="42.6" fill="#fdd83c"/>
<rect x="1178.7" y="674" width="21" height="25.8" fill="#f39a25"/>
<rect x="1214" y="781.9" width="21" height="121.6" fill="#5b7fe6"/>
<rect x="1214" y="751" width="21" height="30.9" fill="#a4cb5f"/>
<rect x="1214" y="734.2" width="21" height="16.8" fill="#fdd83c"/>
<rect x="1214" y="715.7" width="21" height="18.5" fill="#f39a25"/>
<line x1="1075.6" y1="751.2" x2="1094.6" y2="751.2" stroke="rgba(255,255,255,.75)" stroke-width="1.2" stroke-dasharray="2.4 2.8"/>
<line x1="1145.6" y1="751.2" x2="1164.6" y2="751.2" stroke="rgba(255,255,255,.75)" stroke-width="1.2" stroke-dasharray="2.4 2.8"/>
<line x1="1179.7" y1="751.2" x2="1198.7" y2="751.2" stroke="rgba(255,255,255,.75)" stroke-width="1.2" stroke-dasharray="2.4 2.8"/>
<line x1="1215" y1="751.2" x2="1234" y2="751.2" stroke="rgba(255,255,255,.75)" stroke-width="1.2" stroke-dasharray="2.4 2.8"/>
<line x1="908.9" y1="903.5" x2="1261.4" y2="903.5" stroke="#cfd2d7" stroke-width="1.5"/>
<text x="924.8" y="919" font-size="13.5" fill="#a3a7ae" text-anchor="start" dominant-baseline="central" letter-spacing="0.35">04/25</text>
<text x="1206.3" y="919" font-size="13.5" fill="#a3a7ae" text-anchor="start" dominant-baseline="central" letter-spacing="0.35">05/03</text>
<circle cx="1373.3" cy="644.2" r="8.8" fill="none" stroke="#a9b6cc" stroke-width="1.2"/>
<circle cx="1373.3" cy="640" r="1" fill="#a9b6cc"/><path d="M1373.3 643V649" stroke="#a9b6cc" stroke-width="1.4"/>
<g fill="none" stroke="#e3602a" stroke-width="1.5" stroke-linecap="round" stroke-linejoin="round">
<path d="M1419.6 240.5H1411C1410 240.5 1409.3 239.8 1409.3 238.8V222C1409.3 221 1410 220.3 1411 220.3H1424.6C1425.6 220.3 1426.3 221 1426.3 222V233.2"/>
<path d="M1412.6 225.6H1422.6M1412.6 229.8H1420.6M1412.6 234H1416.6M1423.8 234V240.8M1420.4 237.4H1427.6"/>
<path d="M1548 240.5H1539.7C1538.7 240.5 1538 239.8 1538 238.8V222C1538 221 1538.7 220.3 1539.7 220.3H1553.3C1554.3 220.3 1555 221 1555 222V229"/>
<path d="M1541.3 225.6H1551.3M1541.3 229.8H1545.3M1541.3 234H1543.8"/>
<circle cx="1551.2" cy="233.8" r="4.1"/><path d="M1554.2 236.8L1557.6 240.2"/>
<rect x="1667.6" y="221" width="18.2" height="18.8" rx="1.8"/><path d="M1671.5 235.9L1681.8 225.3M1676.5 225.3H1681.8V230.5M1671.5 230.7V235.9H1676.8"/>
<path d="M1767.6 223V238.6L1763.6 233.2M1772 223.2H1784.2M1772 227.9H1784.2M1772 232.7H1784.2M1772 237.4H1784.2"/>
</g>
</g>
</svg>
<div class="a" style="left:597.5px;top:430.5px;font-size:16px;line-height:24px;color:#222">2017年04月25日</div>
<div class="a" style="left:622.5px;top:458.5px;font-size:15.8px;line-height:24px;color:#4d78e0">销售额：712,394,238</div>
<div class="a" style="left:597.5px;top:479px;font-size:15.8px;line-height:24px;color:#7cc51f">3月销售额：280,090,567</div>
</body></html>
